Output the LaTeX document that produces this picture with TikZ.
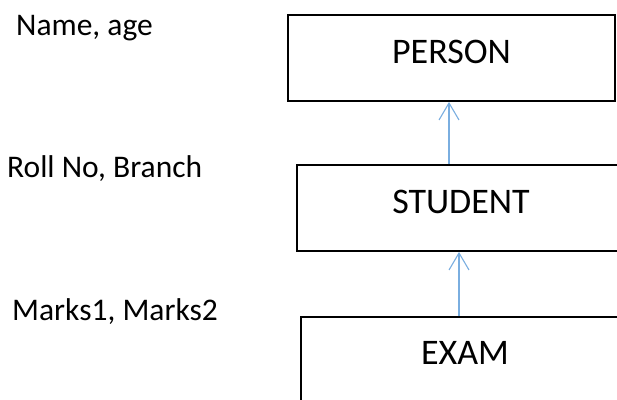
\documentclass[tikz,border=0pt]{standalone}
\usepackage{fontspec}
\setmainfont{Carlito}
\usetikzlibrary{arrows.meta}
\definecolor{linkblue}{HTML}{7AAEE0}
\newcommand{\attrSize}[0]{\fontsize{31.5}{36}\selectfont}
\newcommand{\boxSize}[0]{\fontsize{36}{40}\selectfont}

\begin{document}
\begin{tikzpicture}[x=1pt, y=-1pt]
  \tikzset{entity/.style={draw, line width=1.8pt, minimum width=328pt, minimum height=86pt,
      text height=23pt, text depth=12pt, inner sep=0pt, font=\boxSize},
    attr/.style={anchor=base west, inner sep=0pt, font=\attrSize},
    link/.style={draw=linkblue, line width=1.1pt, -{Straight Barb[length=17pt, width=20pt, line width=1.1pt]}}}
  \useasboundingbox (0,0) rectangle (617,399);
  \clip (0,0) rectangle (617,399);
  \node[entity, minimum width=327pt] (person) at (451.5,58) {PERSON};
  \node[entity] (student) at (461,208) {STUDENT};
  \node[entity, text depth=14pt] (exam) at (465,360) {EXAM};
  \node[attr] (pattr) at (16,35) {Name, age};
  \node[attr] (sattr) at (7,177) {Roll No, Branch};
  \node[attr] (eattr) at (12,320) {Marks1, Marks2};
  \draw[link] (student.north -| 449,0) -- (person.south -| 449,0);
  \draw[link] (exam.north -| 459,0) -- (student.south -| 459,0);
\end{tikzpicture}
\end{document}
